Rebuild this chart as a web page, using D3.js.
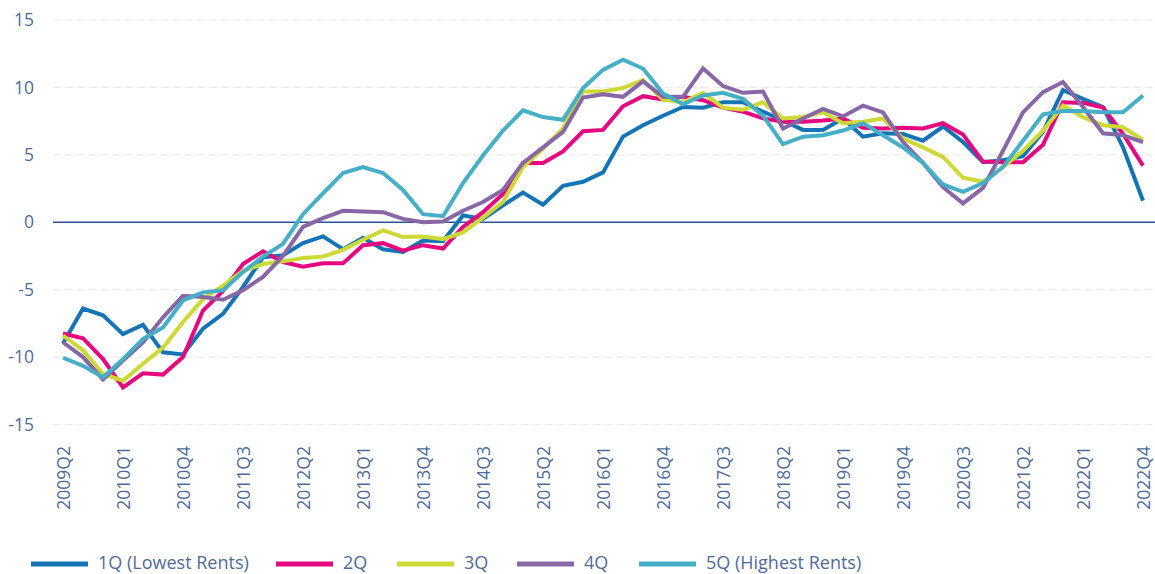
<!DOCTYPE html>
<html>
<head>
<meta charset="utf-8">
<script src="https://cdn.jsdelivr.net/npm/d3@7"></script>
<style>
  html, body { margin: 0; padding: 0; background: #fff; }
  svg text { font-family: "Open Sans", "Noto Sans", sans-serif; }
</style>
</head>
<body>
<div id="chart"></div>
<script>
// quarters on the x axis
const quarters = [
  "2009Q2","2009Q3","2009Q4",
  "2010Q1","2010Q2","2010Q3","2010Q4",
  "2011Q1","2011Q2","2011Q3","2011Q4",
  "2012Q1","2012Q2","2012Q3","2012Q4",
  "2013Q1","2013Q2","2013Q3","2013Q4",
  "2014Q1","2014Q2","2014Q3","2014Q4",
  "2015Q1","2015Q2","2015Q3","2015Q4",
  "2016Q1","2016Q2","2016Q3","2016Q4",
  "2017Q1","2017Q2","2017Q3","2017Q4",
  "2018Q1","2018Q2","2018Q3","2018Q4",
  "2019Q1","2019Q2","2019Q3","2019Q4",
  "2020Q1","2020Q2","2020Q3","2020Q4",
  "2021Q1","2021Q2","2021Q3","2021Q4",
  "2022Q1","2022Q2","2022Q3","2022Q4"
];
const xTickLabels = ["2009Q2","2010Q1","2010Q4","2011Q3","2012Q2","2013Q1","2013Q4","2014Q3","2015Q2",
  "2016Q1","2016Q4","2017Q3","2018Q2","2019Q1","2019Q4","2020Q3","2021Q2","2022Q1","2022Q4"];
const yTicks = [-15, -10, -5, 0, 5, 10, 15];

const seriesNames = ["1Q (Lowest Rents)", "2Q", "3Q", "4Q", "5Q (Highest Rents)"];
const seriesColors = ["#1474b6", "#e5087f", "#cdd934", "#8767a5", "#46afc8"];

const q1 = [-9.0,-6.4,-6.9,-8.3,-7.6,-9.65,-9.8,-7.9,-6.8,-4.8,-2.6,-2.45,-1.55,-1.05,-2.0,-1.15,-2.0,-2.2,-1.35,-1.4,
  0.5,0.25,1.25,2.2,1.3,2.7,3.0,3.7,6.35,7.2,7.9,8.55,8.5,8.9,8.9,8.2,7.55,6.85,6.85,7.7,
  6.35,6.6,6.55,6.05,7.1,5.95,4.45,4.6,4.9,6.7,9.8,9.15,8.55,5.55,1.6];
const q2 = [-8.25,-8.6,-10.15,-12.25,-11.2,-11.3,-10.0,-6.55,-5.1,-3.1,-2.15,-2.95,-3.3,-3.05,-3.05,-1.7,-1.55,-2.1,-1.7,-1.95,
  -0.35,0.75,2.1,4.4,4.4,5.25,6.75,6.85,8.6,9.35,9.1,9.3,9.05,8.5,8.2,7.7,7.45,7.45,7.55,7.7,
  7.0,6.95,7.0,6.95,7.35,6.5,4.5,4.45,4.45,5.75,8.9,8.85,8.5,6.55,4.2];
const q3 = [-8.4,-9.5,-11.25,-11.75,-10.5,-9.3,-7.4,-5.7,-4.7,-3.6,-3.1,-2.9,-2.65,-2.55,-2.05,-1.3,-0.6,-1.1,-1.05,-1.25,
  -0.75,0.35,1.5,4.1,5.45,6.95,9.7,9.7,9.95,10.55,9.1,8.9,9.6,8.5,8.35,8.9,7.7,7.8,8.15,7.35,
  7.45,7.7,6.2,5.55,4.85,3.3,3.0,4.1,5.3,6.8,8.65,7.8,7.2,7.05,6.1];
const q4 = [-8.9,-10.0,-11.65,-10.25,-8.9,-7.05,-5.45,-5.55,-5.75,-5.05,-4.05,-2.5,-0.35,0.3,0.85,0.8,0.75,0.25,0.0,0.05,
  0.85,1.5,2.4,4.4,5.55,6.7,9.25,9.5,9.3,10.45,9.3,9.3,11.4,10.1,9.6,9.7,6.95,7.7,8.4,7.85,
  8.65,8.15,5.95,4.4,2.6,1.4,2.55,5.3,8.15,9.65,10.4,8.55,6.6,6.45,5.95];
const q5 = [-10.05,-10.65,-11.5,-10.15,-8.65,-7.8,-5.8,-5.2,-5.05,-3.7,-2.55,-1.6,0.6,2.15,3.65,4.1,3.65,2.4,0.6,0.45,
  2.9,4.95,6.8,8.3,7.8,7.6,9.95,11.3,12.05,11.4,9.55,8.75,9.4,9.6,9.15,7.9,5.8,6.35,6.45,6.8,
  7.35,6.45,5.55,4.4,2.8,2.25,2.9,4.1,6.05,8.0,8.25,8.25,8.15,8.15,9.4];
const seriesValues = [q1, q2, q3, q4, q5];

const width = 1155, height = 574;
const textColor = "#4f6b9b";

const svg = d3.select("#chart").append("svg")
  .attr("width", width).attr("height", height);

const x = d3.scalePoint().domain(quarters).range([63, 1143]);
const y = d3.scaleLinear().domain([-15, 15]).range([424.5, 20]);

// 网格线
const grid = svg.append("g").attr("class", "grid");
grid.selectAll("line").data(yTicks.filter(d => d !== 0)).join("line")
  .attr("x1", 53).attr("x2", width)
  .attr("y1", d => y(d)).attr("y2", d => y(d))
  .attr("stroke", "#ebebeb").attr("stroke-width", 1.2)
  .attr("stroke-dasharray", "8,4");

// y 轴
const yAxis = svg.append("g").attr("transform", "translate(34,0)")
  .call(d3.axisLeft(y).tickValues(yTicks).tickSize(0).tickPadding(0).tickFormat(d => d));
yAxis.select(".domain").remove();
yAxis.selectAll("text").attr("fill", textColor).attr("font-size", "17.5px")
  .style("font-family", "'Open Sans', sans-serif");

// x 轴
const xAxis = svg.append("g").attr("transform", "translate(0,446)")
  .call(d3.axisBottom(x).tickValues(xTickLabels).tickSize(0).tickPadding(0));
xAxis.select(".domain").remove();
xAxis.selectAll("text")
  .attr("fill", textColor).attr("font-size", "17.5px")
  .style("font-family", "'Open Sans', sans-serif")
  .attr("text-anchor", "end")
  .attr("dy", "0.35em")
  .attr("transform", "rotate(-90)")
  .attr("x", 0).attr("y", 0);

// 零线
svg.append("line")
  .attr("x1", 53).attr("x2", width)
  .attr("y1", y(0)).attr("y2", y(0))
  .attr("stroke", "#2d5290").attr("stroke-width", 1.4);

// 折线
const line = d3.line().x((d, i) => x(quarters[i])).y(d => y(d));
svg.append("g").selectAll("path").data(seriesValues).join("path")
  .attr("d", line)
  .attr("fill", "none")
  .attr("stroke", (d, i) => seriesColors[i])
  .attr("stroke-width", 4)
  .attr("stroke-linejoin", "miter");

// 图例
const legendX = [31, 276, 397, 517, 639];
const legend = svg.append("g").attr("transform", "translate(0,564)");
const items = legend.selectAll("g").data(seriesNames).join("g")
  .attr("transform", (d, i) => "translate(" + legendX[i] + ",0)");
items.append("line")
  .attr("x1", 0).attr("x2", 57).attr("y1", 0).attr("y2", 0)
  .attr("stroke", (d, i) => seriesColors[i]).attr("stroke-width", 5);
items.append("text")
  .attr("x", 67).attr("y", -1).attr("dy", "0.35em")
  .attr("fill", textColor).attr("font-size", "18px")
  .text(d => d);
</script>
</body>
</html>
